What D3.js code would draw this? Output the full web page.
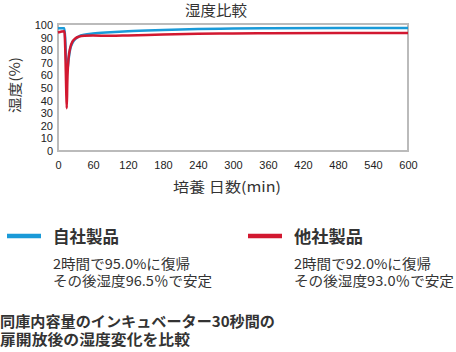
<!DOCTYPE html>
<html>
<head>
<meta charset="utf-8">
<script src="https://cdn.jsdelivr.net/npm/d3@7"></script>
<style>
  body { margin: 0; background: #fff; }
  svg { display: block; font-family: "Liberation Sans", "Noto Sans CJK JP", sans-serif; }
  .jp { font-family: "Noto Sans CJK JP", sans-serif; }
</style>
</head>
<body>
<svg id="chart"></svg>
<script>
(function() {

// data (minutes, humidity %)
const ownTime = [0, 11, 12.5, 14, 16, 18, 21, 25, 30, 36, 45, 60, 90, 120, 180, 240, 300, 360, 600];
const ownHumidity = [97.5, 97.5, 88, 72, 64, 72, 81, 86, 89, 91, 92.2, 93.2, 94.2, 95, 96, 96.8, 97.2, 97.5, 97.6];
const otherTime = [0, 11, 12.5, 14, 15, 16, 18, 21, 25, 30, 36, 45, 60, 90, 120, 180, 240, 300, 360, 600];
const otherHumidity = [94, 95, 80, 50, 34, 55, 73, 82, 87, 89.5, 90.8, 91.5, 91.7, 91.4, 91.7, 92.4, 93, 93.3, 93.5, 93.6];

const xTicks = [0, 60, 120, 180, 240, 300, 360, 420, 480, 540, 600];
const yTicks = [0, 10, 20, 30, 40, 50, 60, 70, 80, 90, 100];

const colorOwn = "#1a9ad8";
const colorOther = "#d21830";

const W = 456, H = 352;
const margin = { top: 24, right: 48, bottom: 202, left: 58 };
const width = W - margin.left - margin.right;
const height = H - margin.top - margin.bottom;

const svg = d3.select("#chart")
    .attr("width", W)
    .attr("height", H);

const g = svg.append("g")
    .attr("transform", `translate(${margin.left},${margin.top})`);

const x = d3.scaleLinear().domain([0, 600]).range([0, width]);
const y = d3.scaleLinear().domain([0, 100]).range([height + 1, 1]);

// frame
g.append("rect")
    .attr("x", 0)
    .attr("y", 0)
    .attr("width", width)
    .attr("height", height + 1)
    .attr("fill", "none")
    .attr("stroke", "#bbbbbb")
    .attr("stroke-width", 2);

// axes (labels only)
const xAxis = g.append("g")
    .attr("transform", `translate(0,${height + 1})`)
    .call(d3.axisBottom(x).tickValues(xTicks).tickSize(0).tickPadding(10));
const yAxis = g.append("g")
    .call(d3.axisLeft(y).tickValues(yTicks).tickSize(0).tickPadding(5));
[xAxis, yAxis].forEach(a => {
    a.select(".domain").remove();
    a.selectAll("text")
        .attr("font-size", "11px")
        .attr("fill", "#222")
        .style("font-family", "Liberation Sans, sans-serif");
});

const line = d3.line()
    .x(d => x(d[0]))
    .y(d => y(d[1]))
    .curve(d3.curveMonotoneX);

g.append("path")
    .datum(d3.zip(ownTime, ownHumidity))
    .attr("d", line)
    .attr("fill", "none")
    .attr("stroke", colorOwn)
    .attr("stroke-width", 2.5);

g.append("path")
    .datum(d3.zip(otherTime, otherHumidity))
    .attr("d", line)
    .attr("fill", "none")
    .attr("stroke", colorOther)
    .attr("stroke-width", 2.5);

// helper for fixed-width text
function label(xp, yp, t, size, len, bold) {
    const el = svg.append("text")
        .attr("class", "jp")
        .attr("x", xp)
        .attr("y", yp)
        .attr("font-size", size + "px")
        .attr("font-weight", bold ? "bold" : "normal")
        .attr("fill", "#333")
        .text(t);
    if (len) el.attr("textLength", len).attr("lengthAdjust", "spacingAndGlyphs");
    return el;
}

// title and axis labels
label(185, 16, "湿度比較", 15, 62);
label(173, 192, "培養 日数(min)", 14, 108);
svg.append("text")
    .attr("class", "jp")
    .attr("transform", "translate(20,85) rotate(-90)")
    .attr("text-anchor", "middle")
    .attr("font-size", "14px")
    .attr("fill", "#333")
    .attr("textLength", 56)
    .attr("lengthAdjust", "spacingAndGlyphs")
    .text("湿度(%)");

// legend
const legend = [
    { name: "自社製品", color: colorOwn, x: 7, nameLen: 66, lines: ["2時間で95.0%に復帰", "その後湿度96.5％で安定"], lens: [137, 159] },
    { name: "他社製品", color: colorOther, x: 248, nameLen: 69, lines: ["2時間で92.0%に復帰", "その後湿度93.0％で安定"], lens: [137, 160] }
];

legend.forEach(l => {
    svg.append("line")
        .attr("x1", l.x).attr("x2", l.x + 34)
        .attr("y1", 236).attr("y2", 236)
        .attr("stroke", l.color)
        .attr("stroke-width", 4.5);
    label(l.x + 46, 243, l.name, 16.5, l.nameLen, true);
    l.lines.forEach((t, i) => label(l.x + 46, 269 + i * 17, t, 13.5, l.lens[i]));
});

// note
label(0, 327, "同庫内容量のインキュベーター30秒間の", 14.5, 275, true);
label(0, 345, "扉開放後の湿度変化を比較", 14.5, 190, true);

})();
</script>
</body>
</html>
